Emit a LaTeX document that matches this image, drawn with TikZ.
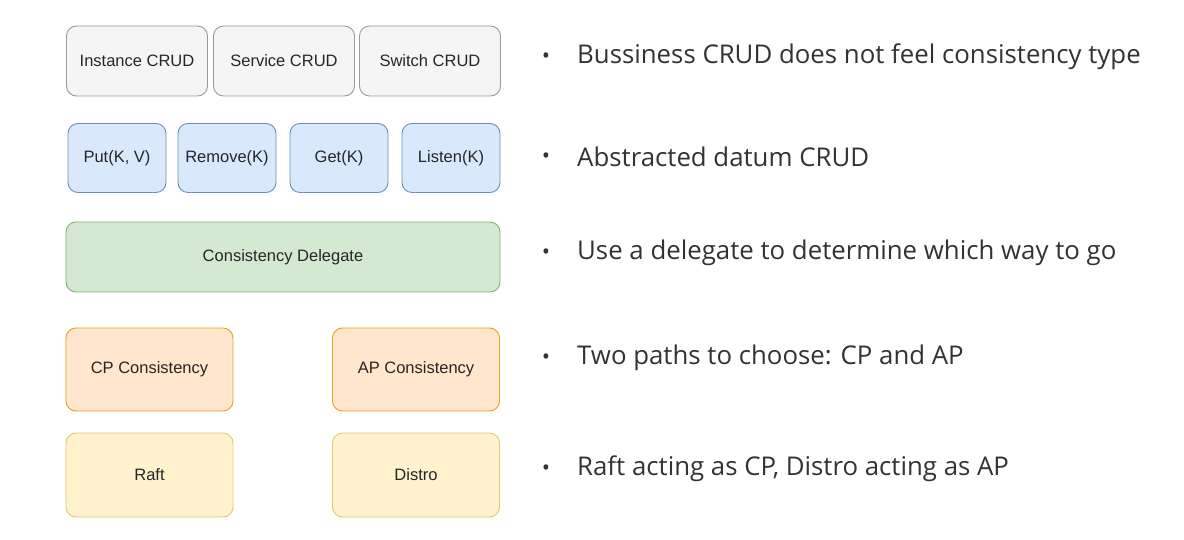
\documentclass[tikz,border=0pt]{standalone}
\usepackage{fontspec}
\setmainfont{Liberation Sans}
\newfontfamily\notefont{Open Sans}
\definecolor{grayfill}{HTML}{F5F5F5}
\definecolor{graydraw}{HTML}{9A9A9A}
\definecolor{bluefill}{HTML}{DAE8FC}
\definecolor{bluedraw}{HTML}{6C8EBF}
\definecolor{greenfill}{HTML}{D5E8D4}
\definecolor{greendraw}{HTML}{82B366}
\definecolor{orangefill}{HTML}{FFE6CC}
\definecolor{orangedraw}{HTML}{E6A020}
\definecolor{yellowfill}{HTML}{FFF2CC}
\definecolor{yellowdraw}{HTML}{E0C870}
\definecolor{notetext}{HTML}{333333}
\tikzset{
  block/.style={draw, rounded corners=10pt, line width=0.9pt, align=center,
    font=\fontsize{16.5}{19}\selectfont, text=black!85, inner sep=0pt},
  crud/.style={block, fill=grayfill, draw=graydraw, minimum width=141pt, minimum height=70pt},
  datum/.style={block, fill=bluefill, draw=bluedraw, minimum width=98pt, minimum height=69pt},
  delegate/.style={block, fill=greenfill, draw=greendraw, minimum width=434pt, minimum height=70pt},
  path/.style={block, fill=orangefill, draw=orangedraw, minimum width=167pt, minimum height=83pt},
  impl/.style={block, fill=yellowfill, draw=yellowdraw, minimum width=167pt, minimum height=84pt},
  dot/.style={font=\notefont\fontsize{22}{24}\selectfont, text=notetext, inner sep=0pt},
  note/.style={anchor=west, font=\notefont\fontsize{25.8}{30}\selectfont, text=notetext, inner sep=0pt}
}
\begin{document}
\begin{tikzpicture}[x=1pt, y=-1pt]
    \useasboundingbox[fill=white] (0,0) rectangle (1184,540);

    %% business CRUD
    \node[crud] (instance) at (137, 61) {Instance CRUD};
    \node[crud] (service) at (284, 61) {Service CRUD};
    \node[crud] (switch) at (430, 61) {Switch CRUD};

    %% datum CRUD
    \node[datum] (put) at (117, 158) {Put(K, V)};
    \node[datum] (remove) at (227, 158) {Remove(K)};
    \node[datum] (get) at (339, 158) {Get(K)};
    \node[datum] (listen) at (451, 158) {Listen(K)};

    %% delegate
    \node[delegate] (delegate) at (283, 257) {Consistency Delegate};

    %% two paths
    \node[path] (cp) at (149.5, 369.5) {CP Consistency};
    \node[path] (ap) at (416, 369.5) {AP Consistency};

    %% protocols
    \node[impl] (raft) at (149.5, 475) {Raft};
    \node[impl] (distro) at (416, 475) {Distro};

    %% notes
    \node[dot] (dot1) at (546, 58) {•};
    \node[note] (note1) at (577, 57) {Bussiness CRUD does not feel consistency type};
    \node[dot] (dot2) at (546, 158) {•};
    \node[note] (note2) at (577, 157) {Abstracted datum CRUD};
    \node[dot] (dot3) at (546, 254) {•};
    \node[note] (note3) at (577, 253) {Use a delegate to determine which way to go};
    \node[dot] (dot4) at (546, 359) {•};
    \node[note] (note4) at (577, 358) {Two paths to choose: CP and AP};
    \node[dot] (dot5) at (546, 470) {•};
    \node[note] (note5) at (577, 469) {Raft acting as CP, Distro acting as AP};

\end{tikzpicture}
\end{document}
